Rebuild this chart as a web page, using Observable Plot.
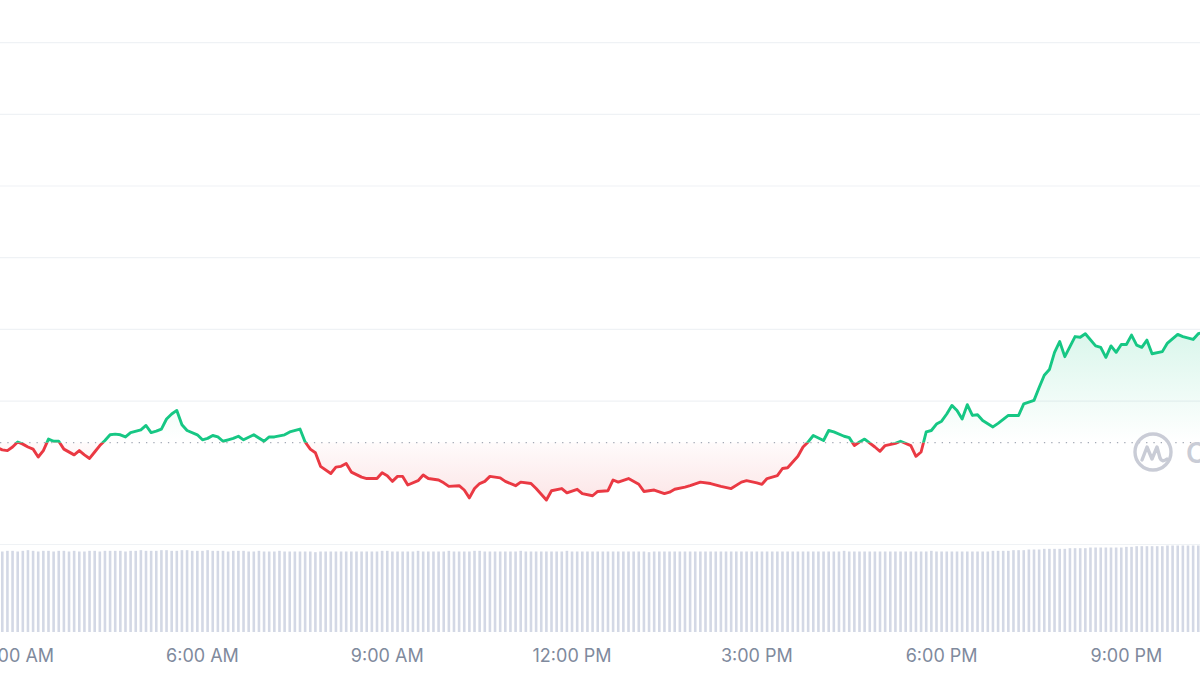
<!DOCTYPE html>
<html><head><meta charset="utf-8">
<script src="https://cdn.jsdelivr.net/npm/d3@7"></script>
<script src="https://cdn.jsdelivr.net/npm/@observablehq/plot@0.6"></script>
<style>
html,body{margin:0;padding:0;background:#fff;overflow:hidden}
#wrap{position:relative;width:1200px;height:675px;overflow:hidden}
#wrap svg{position:absolute;left:0;top:0}
</style></head>
<body><div id="wrap"></div>
<script>
// ---- data ----
const times = ["02:40","02:45","02:50","02:55","03:00","03:05","03:10","03:15","03:20","03:25","03:30","03:35","03:40","03:45","03:55","04:00","04:05","04:10","04:15","04:20","04:25","04:30","04:35","04:40","04:45","04:50","05:00","05:05","05:10","05:15","05:20","05:25","05:30","05:35","05:40","05:45","05:55","06:00","06:05","06:10","06:15","06:20","06:25","06:30","06:35","06:40","06:50","07:00","07:05","07:10","07:20","07:25","07:35","07:40","07:45","07:50","07:55","08:05","08:10","08:15","08:20","08:25","08:35","08:40","08:50","08:55","09:00","09:05","09:10","09:15","09:20","09:30","09:35","09:40","09:50","09:55","10:00","10:10","10:15","10:20","10:25","10:30","10:35","10:40","10:50","10:55","11:05","11:10","11:20","11:25","11:35","11:40","11:50","11:55","12:05","12:10","12:20","12:25","12:35","12:40","12:45","12:55","13:05","13:10","13:20","13:30","13:35","13:40","13:50","13:55","14:05","14:15","14:25","14:35","14:45","14:50","15:00","15:05","15:10","15:20","15:25","15:30","15:40","15:45","15:50","15:55","16:05","16:10","16:15","16:25","16:30","16:35","16:40","16:45","16:55","17:00","17:05","17:15","17:20","17:30","17:35","17:40","17:45","17:50","17:55","18:00","18:05","18:10","18:15","18:20","18:25","18:30","18:35","18:40","18:50","18:55","19:05","19:15","19:20","19:30","19:35","19:40","19:45","19:50","19:55","20:00","20:10","20:15","20:20","20:30","20:35","20:40","20:45","20:50","20:55","21:00","21:05","21:10","21:15","21:20","21:25","21:35","21:40","21:50","21:55","22:05","22:10","22:15"];
const prices = [101.35,101.32,101.31,101.36,101.43,101.40,101.36,101.33,101.22,101.31,101.47,101.44,101.44,101.33,101.25,101.31,101.25,101.20,101.29,101.38,101.45,101.53,101.54,101.53,101.50,101.56,101.60,101.66,101.56,101.58,101.61,101.75,101.82,101.87,101.67,101.59,101.53,101.46,101.48,101.52,101.50,101.44,101.46,101.48,101.51,101.46,101.53,101.44,101.50,101.50,101.53,101.57,101.61,101.43,101.33,101.28,101.09,100.99,101.08,101.09,101.13,101.01,100.94,100.92,100.92,101.00,100.96,100.88,100.95,100.95,100.83,100.89,100.97,100.92,100.90,100.86,100.81,100.82,100.76,100.65,100.78,100.85,100.88,100.95,100.93,100.88,100.82,100.87,100.85,100.78,100.62,100.75,100.78,100.72,100.77,100.71,100.68,100.74,100.75,100.90,100.87,100.92,100.84,100.74,100.76,100.71,100.73,100.77,100.80,100.82,100.87,100.85,100.81,100.78,100.87,100.89,100.86,100.84,100.92,100.96,101.06,101.07,101.23,101.36,101.43,101.52,101.45,101.59,101.57,101.51,101.49,101.38,101.43,101.47,101.36,101.30,101.38,101.41,101.44,101.38,101.23,101.29,101.57,101.59,101.68,101.72,101.82,101.94,101.87,101.75,101.95,101.80,101.81,101.73,101.64,101.69,101.80,101.80,101.96,102.01,102.19,102.36,102.44,102.68,102.83,102.62,102.90,102.89,102.94,102.77,102.75,102.61,102.77,102.68,102.79,102.79,102.92,102.78,102.75,102.85,102.66,102.69,102.81,102.93,102.90,102.86,102.94,102.96];
const openPrice = 101.42;            // 24h-ago reference (dotted line)
const gridPrices = [100,102,103,104,105,106,107];

// 24h volume (billions), one bar every 5 minutes from 02:40
const volumeStart = "02:40";
const volumes = [
 1.22,1.21,1.22,1.22,1.21,1.22,1.23,1.22,1.21,1.22,1.22,1.21,
 1.22,1.22,1.21,1.22,1.21,1.21,1.22,1.22,1.21,1.22,1.22,1.22,
 1.22,1.21,1.22,1.22,1.23,1.22,1.22,1.22,1.23,1.23,1.22,1.22,
 1.23,1.23,1.22,1.22,1.22,1.23,1.22,1.22,1.22,1.21,1.22,1.22,
 1.22,1.21,1.21,1.22,1.21,1.21,1.21,1.22,1.21,1.21,1.21,1.21,
 1.21,1.21,1.20,1.21,1.21,1.21,1.21,1.21,1.21,1.21,1.21,1.21,
 1.21,1.21,1.21,1.22,1.22,1.21,1.21,1.21,1.21,1.21,1.22,1.21,
 1.21,1.21,1.21,1.21,1.22,1.21,1.21,1.21,1.21,1.22,1.22,1.21,
 1.21,1.21,1.21,1.21,1.21,1.21,1.22,1.21,1.21,1.21,1.21,1.21,
 1.21,1.21,1.21,1.22,1.21,1.21,1.21,1.21,1.21,1.21,1.21,1.21,
 1.21,1.21,1.21,1.21,1.21,1.21,1.21,1.20,1.21,1.21,1.21,1.21,
 1.21,1.21,1.21,1.21,1.21,1.21,1.21,1.21,1.21,1.21,1.21,1.21,
 1.21,1.21,1.21,1.21,1.21,1.21,1.21,1.21,1.21,1.21,1.21,1.21,
 1.21,1.21,1.21,1.21,1.21,1.21,1.21,1.21,1.21,1.22,1.21,1.21,
 1.21,1.21,1.21,1.21,1.21,1.21,1.21,1.21,1.21,1.21,1.21,1.21,
 1.21,1.21,1.22,1.21,1.21,1.21,1.21,1.21,1.21,1.21,1.21,1.21,
 1.21,1.21,1.22,1.22,1.22,1.22,1.23,1.23,1.23,1.24,1.24,1.24,
 1.25,1.25,1.25,1.25,1.25,1.26,1.26,1.26,1.26,1.27,1.27,1.27,
 1.27,1.27,1.27,1.27,1.28,1.28,1.29,1.29,1.29,1.29,1.29,1.29,
 1.30,1.30,1.30,1.30,1.30,1.30,1.30,1.30
];
const tickTimes = ["03:00","06:00","09:00","12:00","15:00","18:00","21:00"];
const tickLabels = ["3:00 AM","6:00 AM","9:00 AM","12:00 PM","3:00 PM","6:00 PM","9:00 PM"];

// ---- build ----
const W = 1200, H = 675;
const hrs = s => { const [h, m] = s.split(":").map(Number); return h + m / 60; };
const series = times.map((t, i) => ({t: hrs(t), p: prices[i]}));
const v0 = hrs(volumeStart);
const vol = volumes.map((v, i) => ({t: v0 + i * 5 / 60, v}));
const ticks = tickTimes.map((t, i) => ({t: hrs(t), label: tickLabels[i]}));
const xDomain = [2.721, 22.203];
const UP = "#16c784", DOWN = "#ea3943";

const priceChart = Plot.plot({
  width: W, height: H, margin: 0,
  x: {domain: xDomain, axis: null},
  y: {domain: [98.173, 107.587], axis: null},
  style: {background: "transparent"},
  marks: [
    Plot.ruleY(gridPrices, {stroke: "#eff2f5", strokeWidth: 1.2}),
    Plot.areaY(series, {x: "t", y1: openPrice, y2: "p", fill: UP}),
    Plot.areaY(series, {x: "t", y1: openPrice, y2: "p", fill: DOWN}),
    Plot.ruleY([openPrice], {stroke: "#a4aab6", strokeWidth: 1.3, strokeDasharray: "1.3,6"}),
    Plot.lineY(series, {x: "t", y: "p", stroke: UP, strokeWidth: 2.9, strokeLinejoin: "round"}),
    Plot.lineY(series, {x: "t", y: "p", stroke: DOWN, strokeWidth: 2.9, strokeLinejoin: "round"})
  ]
});

const volChart = Plot.plot({
  width: W, height: H, marginTop: 0, marginLeft: 0, marginRight: 0, marginBottom: 43,
  x: {domain: xDomain, axis: null},
  y: {domain: [0, 9.5], axis: null},
  style: {background: "transparent"},
  marks: [
    Plot.ruleX(vol, {x: "t", y1: 0, y2: "v", stroke: "#d3d8e5", strokeWidth: 2.6}),
    Plot.text(ticks, {x: "t", text: "label", frameAnchor: "bottom", dy: 24, fill: "#808a9d",
      fontSize: 18, fontFamily: "Inter, 'Noto Sans', sans-serif", lineAnchor: "middle"})
  ]
});

// gradients + clipping for up/down sections
const svg = d3.select(priceChart);
const yS = priceChart.scale("y");
const basePx = yS.apply(openPrice);
const defs = svg.insert("defs", ":first-child");
defs.append("clipPath").attr("id", "clipUp").append("rect")
  .attr("x", -10).attr("y", -10).attr("width", W + 20).attr("height", basePx + 10);
defs.append("clipPath").attr("id", "clipDown").append("rect")
  .attr("x", -10).attr("y", basePx).attr("width", W + 20).attr("height", H - basePx + 10);
const gU = defs.append("linearGradient").attr("id", "gradUp").attr("gradientUnits", "userSpaceOnUse")
  .attr("x1", 0).attr("x2", 0).attr("y1", yS.apply(d3.max(prices))).attr("y2", basePx);
gU.append("stop").attr("offset", 0).attr("stop-color", UP).attr("stop-opacity", 0.16);
gU.append("stop").attr("offset", 1).attr("stop-color", UP).attr("stop-opacity", 0.0);
const gD = defs.append("linearGradient").attr("id", "gradDown").attr("gradientUnits", "userSpaceOnUse")
  .attr("x1", 0).attr("x2", 0).attr("y1", basePx).attr("y2", yS.apply(d3.min(prices)));
gD.append("stop").attr("offset", 0).attr("stop-color", DOWN).attr("stop-opacity", 0.02);
gD.append("stop").attr("offset", 1).attr("stop-color", DOWN).attr("stop-opacity", 0.13);

const areas = svg.selectAll('g[aria-label="area"]').nodes();
const lines = svg.selectAll('g[aria-label="line"]').nodes();
const style = (node, fill, clip) => {
  if (!node) return;
  const g = d3.select(node).attr("clip-path", `url(#${clip})`);
  if (fill) { g.attr("fill", fill); g.selectAll("path").attr("fill", fill); }
};
style(areas[0], "url(#gradUp)", "clipUp");
style(areas[1], "url(#gradDown)", "clipDown");
style(lines[0], null, "clipUp");
style(lines[1], null, "clipDown");

const wrap = document.getElementById("wrap");
wrap.appendChild(priceChart);
wrap.appendChild(volChart);

// CoinMarketCap watermark (decorative)
const wm = d3.select(wrap).append("svg").attr("width", W).attr("height", H)
  .style("position", "absolute").style("left", 0).style("top", 0);
const lg = wm.append("g").attr("transform", "translate(1153,452)")
  .attr("fill", "none").attr("stroke", "#c9ccd6").attr("stroke-width", 3.4)
  .attr("stroke-linecap", "round").attr("stroke-linejoin", "round");
lg.append("circle").attr("r", 18);
lg.append("path").attr("d", "M-11,8 L-6,-5 L-1,7 L4,-5 L7,6 Q9,11 14,7");
wm.append("text").attr("x", 1186).attr("y", 463).attr("fill", "#c9ccd6")
  .attr("font-family", "Inter, sans-serif").attr("font-size", 28).attr("font-weight", 600)
  .text("CoinMarketCap");
</script>
</body></html>
